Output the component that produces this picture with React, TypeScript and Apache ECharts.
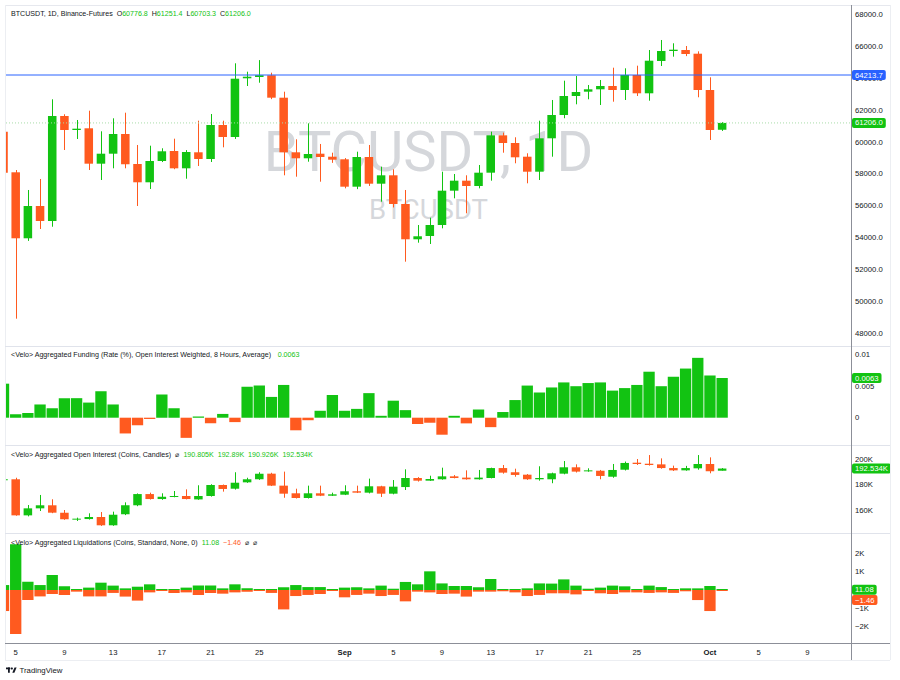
import React, { useEffect, useRef } from 'react';
import * as echarts from 'echarts';

const GREEN = '#12c312';
const RED = '#ff5a1f';
const BLUE = '#2962ff';
const TEXT = '#131722';
const FONT = 'Liberation Sans, Arial, sans-serif';

// Day offset of the first bar relative to Aug 5 (Aug 4 → -1); bars run daily to Oct 2
const firstDayOffset = -1;

const priceOpen = [60656,58107,53964,55991,55050,61641,60762,60869,58647,59274,60510,58628,57479,58816,59444,58357,59362,58942,61076,60323,64008,64089,64196,62790,59362,58986,59274,59086,58923,57203,59067,57391,57918,56117,53901,54108,54797,56952,57580,57247,58082,60427,59946,59086,58144,60241,61704,62896,63167,63317,63524,63273,64215,63066,65094,65721,65784,65552,63273,60776.8];
const priceHigh = [60900,58250,56996,57686,62689,61750,61390,61974,60680,61496,61848,59821,59777,59614,60216,59500,61346,61767,61346,64949,64422,65150,64360,63167,60178,61180,59884,59337,59000,59400,59821,58458,58295,56996,54797,55257,58144,58000,57918,58565,60656,60600,60304,59300,61346,62646,63857,64152,63587,63901,64673,64635,64800,65784,66412,66205,66035,65700,64070,61251.4];
const priceLow = [57900,48917,53800,54547,54690,59507,60197,58250,57623,58357,58357,55991,57059,58750,58300,57705,58502,58753,59676,60200,63524,63731,62700,57918,57830,58772,57517,58700,57100,57050,57250,56261,55900,52495,53688,53606,54590,56474,55533,57100,57580,59337,58672,57416,57623,59086,61500,62375,62690,62332,62539,62646,62896,62602,64780,65365,65400,62815,60134,60703.3];
const priceClose = [58082,53964,55991,55050,61641,60762,60844,58647,59274,60510,58609,57479,58816,59425,58357,59381,58942,61076,60323,63982,64108,64196,62790,59362,58986,59255,59067,58898,57203,59067,57391,57918,56117,53901,54090,54797,56952,57580,57247,58082,60427,59946,59048,58144,60241,61704,62896,63148,63317,63524,63273,64215,63066,65112,65721,65803,65533,63273,60762,61206.0];

const funding = [0.0054,0.00054,0.00075,0.0021,0.0015,0.0031,0.0031,0.0024,0.0042,0.0021,-0.0025,-0.0012,-0.0002,0.0037,0.0015,-0.0032,0.0002,-0.0009,0.0006,-0.0007,0.0049,0.0051,0.0033,0.0052,-0.0020,-0.0004,0.0011,0.0036,0.0011,0.0014,0.0039,0.0003,0.0027,0.0012,-0.0010,-0.0008,-0.0027,0.0003,-0.0009,0.0013,-0.0015,0.0009,0.0028,0.0051,0.0040,0.0048,0.0056,0.0050,0.0055,0.0056,0.0043,0.0047,0.0052,0.0073,0.0050,0.0065,0.0078,0.0095,0.0067,0.0063];

const oiOpen = [183.5,184.1,155.8,161.3,163.7,157.9,152.6,152.9,154.5,148.0,156.6,163.7,172.5,168.6,170.2,171.0,168.3,171.0,179.6,176.7,181.7,184.1,188.5,179.1,173.1,169.4,173.1,171.2,172.0,174.7,173.6,178.6,172.8,178.0,185.1,183.0,184.1,186.4,185.4,184.1,185.1,192.9,189.6,187.7,184.1,184.1,188.5,193.5,190.4,190.8,186.1,191.6,197.1,196.3,195.8,192.9,191.1,192.7,196.1,190.805];
const oiHigh = [184.5,185.3,163.9,171.8,168.4,160.0,154.0,157.4,158.4,158.7,166.0,173.0,173.6,173.1,174.9,176.2,179.4,180.2,180.0,189.6,185.3,189.6,189.2,190.1,176.7,179.1,179.1,173.6,179.4,179.1,184.6,179.0,183.5,191.9,185.8,186.9,193.2,187.4,191.1,191.4,193.2,195.3,192.4,188.2,194.3,189.3,198.4,195.8,192.7,191.4,196.1,198.0,200.0,203.1,200.5,194.8,194.6,203.1,201.3,192.89];
const oiLow = [183.2,155.5,155.0,159.2,157.5,152.3,151.4,152.5,147.5,147.6,156.0,163.0,168.2,168.0,170.0,168.3,168.0,170.5,174.4,176.0,181.3,183.6,178.8,169.6,169.0,169.0,170.9,171.0,171.7,173.3,173.0,170.2,172.3,175.7,182.3,182.8,183.8,184.8,183.8,183.8,184.8,188.5,186.1,183.6,183.0,181.0,188.0,189.4,190.0,184.1,185.3,191.0,195.3,194.8,192.4,190.6,190.8,191.6,188.8,190.926];
const oiClose = [184.2,155.8,161.3,163.7,157.9,152.7,153.2,154.5,148.0,156.3,163.7,172.5,168.6,170.4,171.0,168.6,171.0,179.6,176.5,181.4,184.1,188.5,179.1,172.8,169.4,173.1,171.2,172.3,174.7,173.6,178.6,172.8,178.3,185.1,183.0,184.3,186.4,185.1,184.1,185.4,192.9,189.3,187.5,184.1,185.1,188.8,193.5,190.1,191.1,186.7,191.4,196.9,196.1,195.3,192.9,191.1,192.9,196.1,190.4,192.534];

const liqLong = [270,2500,450,270,820,200,50,130,400,240,90,180,310,20,50,130,240,240,90,310,90,20,0,150,270,160,160,20,130,150,90,240,70,440,310,1020,360,220,220,150,600,20,0,90,360,350,580,240,70,130,240,200,50,240,160,0,90,90,220,11.08];
const liqShort = [-1150,-2400,-550,-350,-220,-270,-90,-350,-350,-160,-360,-580,-130,-40,-160,-130,-270,-160,-200,-130,-90,-40,-160,-1060,-330,-270,-220,-50,-400,-270,-200,-330,-270,-620,-90,-130,-220,-200,-360,-90,-90,-70,-130,-330,-270,-180,-180,-240,-40,-180,-220,-130,-130,-160,-130,-160,-70,-550,-1150,-1.46];

const xTickDays = [0,4,8,12,16,20,27,31,35,39,43,47,51,57,61,65];
const xTickLabels = ['5','9','13','17','21','25','Sep','5','9','13','17','21','25','Oct','5','9'];
const priceTicks = [48000,50000,52000,54000,56000,58000,60000,62000,64000,66000,68000];
const fundingTicks = [0,0.005,0.01];
const oiTicks = [160,180,200];
const liqTicks = [2000,1000,-1000,-2000];

const lastPrice = 61206.0;
const refPrice = 64213.7;
const lastFunding = 0.0063;
const lastOI = 192.534;
const lastLiqLong = 11.08;
const lastLiqShort = -1.46;

const X_MIN = -0.796;
const X_MAX = 68.58;

function clipR(x: number, y: number, w: number, h: number, cs: any) {
  const x1 = Math.max(x, cs.x), x2 = Math.min(x + w, cs.x + cs.width);
  const y1 = Math.max(y, cs.y), y2 = Math.min(y + h, cs.y + cs.height);
  if (x2 <= x1 || y2 <= y1) return null;
  return { x: x1, y: y1, width: x2 - x1, height: y2 - y1 };
}

function renderCandle(params: any, api: any) {
  const cs = params.coordSys;
  const x = api.value(0), o = api.value(1), c = api.value(2), l = api.value(3), h = api.value(4);
  const color = c >= o ? GREEN : RED;
  const po = api.coord([x, o]);
  const px = po[0];
  const yo = po[1];
  const yc = api.coord([x, c])[1];
  const yl = api.coord([x, l])[1];
  const yh = api.coord([x, h])[1];
  const bw = api.size([1, 0])[0] * 0.7;
  const children: any[] = [];
  if (px >= cs.x && px <= cs.x + cs.width) {
    const wx = Math.round(px) + 0.5;
    children.push({ type: 'line', shape: { x1: wx, y1: yh, x2: wx, y2: yl }, style: { stroke: color, lineWidth: 1 } });
  }
  const top = Math.min(yo, yc);
  const ht = Math.max(1, Math.abs(yo - yc));
  const r = clipR(px - bw / 2, top, bw, ht, cs);
  if (r) children.push({ type: 'rect', shape: r, style: { fill: color } });
  return { type: 'group', children };
}

function renderFunding(params: any, api: any) {
  const cs = params.coordSys;
  const x = api.value(0), v = api.value(1);
  const p = api.coord([x, v]);
  const y0 = api.coord([x, 0])[1];
  const bw = api.size([1, 0])[0] * 0.93;
  const top = Math.min(p[1], y0);
  const ht = Math.max(1, Math.abs(p[1] - y0));
  const r = clipR(p[0] - bw / 2, top, bw, ht, cs);
  return { type: 'group', children: r ? [{ type: 'rect', shape: r, style: { fill: v >= 0 ? GREEN : RED } }] : [] };
}

function renderLiq(params: any, api: any) {
  const cs = params.coordSys;
  const x = api.value(0), pos = api.value(1), neg = api.value(2);
  const y0 = api.coord([x, 0])[1];
  const pp = api.coord([x, pos]);
  const pn = api.coord([x, neg])[1];
  const bw = api.size([1, 0])[0] * 0.93;
  const children: any[] = [];
  const rp = clipR(pp[0] - bw / 2, Math.min(pp[1], y0 - 1), bw, Math.max(1, y0 - pp[1]), cs);
  if (rp) children.push({ type: 'rect', shape: rp, style: { fill: GREEN } });
  const rn = clipR(pp[0] - bw / 2, y0, bw, Math.max(1, pn - y0), cs);
  if (rn) children.push({ type: 'rect', shape: rn, style: { fill: RED } });
  return { type: 'group', children };
}

const lblBox = (bg: string, text: string) => ({
  show: true,
  distance: 1,
  color: '#ffffff',
  backgroundColor: bg,
  padding: [1, 3],
  borderRadius: 2,
  fontSize: 7.7,
  fontFamily: FONT,
  formatter: text,
});

// A horizontal level drawn as a two-point line series across the pane, with its value box as the end label
function levelSeries(axis: number, value: number, lineStyle: any, endLabel: any) {
  return {
    type: 'line', xAxisIndex: axis, yAxisIndex: axis,
    data: [[X_MIN, value], [X_MAX, value]],
    symbol: 'none', silent: true, clip: false, z: 6,
    lineStyle,
    endLabel,
    emphasis: { disabled: true },
  };
}

export default function App() {
  const ref = useRef<HTMLDivElement>(null);
  useEffect(() => {
    if (!ref.current) return;
    const chart = echarts.init(ref.current, null, { renderer: 'svg' });
    const xs = priceOpen.map((_, i) => firstDayOffset + i);
    const candleRows = xs.map((x, i) => [x, priceOpen[i], priceClose[i], priceLow[i], priceHigh[i]]);
    const oiRows = xs.map((x, i) => [x, oiOpen[i], oiClose[i], oiLow[i], oiHigh[i]]);
    const fundRows = xs.map((x, i) => [x, funding[i]]);
    const liqRows = xs.map((x, i) => [x, liqLong[i], liqShort[i]]);

    const mkX = (gi: number, show: boolean) => ({
      type: 'value', gridIndex: gi, min: X_MIN, max: X_MAX,
      splitLine: { show: false }, axisLine: { show: false }, axisTick: { show: false },
      axisLabel: show ? {
        show: true, margin: 5, color: TEXT, fontSize: 7.7, fontFamily: FONT,
        customValues: xTickDays,
        formatter: (v: number) => {
          const i = xTickDays.indexOf(Math.round(v));
          const t = i >= 0 ? xTickLabels[i] : '';
          return t === 'Sep' || t === 'Oct' ? `{b|${t}}` : t;
        },
        rich: { b: { fontWeight: 'bold', fontSize: 7.7, color: TEXT, fontFamily: FONT } },
      } : { show: false },
    });
    const mkY = (gi: number, min: number, max: number, ticks: number[], fmt: (v: number) => string) => ({
      type: 'value', gridIndex: gi, position: 'right', min, max,
      splitLine: { show: false }, axisLine: { show: false }, axisTick: { show: false },
      axisLabel: { show: true, margin: 4, color: TEXT, fontSize: 7.7, fontFamily: FONT, customValues: ticks, formatter: fmt },
    });

    const hline = (x1: number, y: number, x2: number, color: string) => ({
      type: 'line', silent: true, z: 50, shape: { x1, y1: y, x2, y2: y }, style: { stroke: color, lineWidth: 1 },
    });
    const vline = (x: number, y1: number, y2: number, color: string) => ({
      type: 'line', silent: true, z: 50, shape: { x1: x, y1, x2: x, y2 }, style: { stroke: color, lineWidth: 1 },
    });
    const legendText = (y: number, text: string, rich: any) => ({
      type: 'text', x: 11, y, z: 100, silent: true,
      style: { text, fontSize: 7.1, fontFamily: FONT, fill: TEXT, verticalAlign: 'middle', align: 'left', rich },
    });
    const richBase = {
      t: { fontSize: 7.1, fontFamily: FONT, fill: TEXT, color: TEXT },
      g: { fontSize: 7.1, fontFamily: FONT, fill: GREEN, color: GREEN },
      r: { fontSize: 7.1, fontFamily: FONT, fill: RED, color: RED },
    };

    const hidden = { color: 'rgba(255,255,255,0)', width: 0 };

    chart.setOption({
      animation: false,
      backgroundColor: '#ffffff',
      grid: [
        { left: 6, right: 49, top: 5, height: 341 },
        { left: 6, right: 49, top: 347, height: 98 },
        { left: 6, right: 49, top: 446, height: 87 },
        { left: 6, right: 49, top: 534, height: 109 },
      ],
      xAxis: [mkX(0, false), mkX(1, false), mkX(2, false), mkX(3, true)],
      yAxis: [
        mkY(0, 47202, 68609, priceTicks, (v) => v.toFixed(1)),
        mkY(1, -0.004333, 0.011222, fundingTicks, (v) => String(v)),
        mkY(2, 141.96, 210.2, oiTicks, (v) => `${v}K`),
        mkY(3, -2896, 3060, liqTicks, (v) => `${v < 0 ? '−' : ''}${Math.abs(v) / 1000}K`),
      ],
      series: [
        { type: 'custom', xAxisIndex: 0, yAxisIndex: 0, renderItem: renderCandle, data: candleRows, encode: { x: 0, y: [1, 2, 3, 4] }, silent: true },
        levelSeries(0, lastPrice, { color: '#a8dca8', width: 1, type: [1, 2] }, lblBox(GREEN, lastPrice.toFixed(1))),
        levelSeries(0, refPrice, { color: BLUE, width: 1, type: 'solid' }, lblBox(BLUE, refPrice.toFixed(1))),
        { type: 'custom', xAxisIndex: 1, yAxisIndex: 1, renderItem: renderFunding, data: fundRows, encode: { x: 0, y: 1 }, silent: true },
        levelSeries(1, lastFunding, hidden, lblBox(GREEN, String(lastFunding))),
        { type: 'custom', xAxisIndex: 2, yAxisIndex: 2, renderItem: renderCandle, data: oiRows, encode: { x: 0, y: [1, 2, 3, 4] }, silent: true },
        levelSeries(2, lastOI, hidden, lblBox(GREEN, `${lastOI}K`)),
        { type: 'custom', xAxisIndex: 3, yAxisIndex: 3, renderItem: renderLiq, data: liqRows, encode: { x: 0, y: [1, 2] }, silent: true },
        levelSeries(3, lastLiqLong, hidden, lblBox(GREEN, String(lastLiqLong))),
        levelSeries(3, lastLiqShort, hidden, {
          show: true, distance: 1, fontSize: 7.7, fontFamily: FONT,
          formatter: `{g|}\n{b|−${Math.abs(lastLiqShort)}}`,
          rich: {
            g: { height: 20, fontSize: 7.7 },
            b: { backgroundColor: RED, color: '#ffffff', padding: [1, 3], borderRadius: 2, fontSize: 7.7, fontFamily: FONT },
          },
        }),
      ],
      graphic: {
        elements: [
          { type: 'text', x: 428.5, y: 151.5, z: -5, silent: true, style: { text: 'BTCUSDT, 1D', fontSize: 56, fontFamily: 'Roboto', fill: '#d5d7db', align: 'center', verticalAlign: 'middle' } },
          { type: 'text', x: 428.5, y: 209.5, z: -5, silent: true, style: { text: 'BTCUSDT', fontSize: 27.5, fontFamily: 'Roboto', fill: '#d5d7db', align: 'center', verticalAlign: 'middle' } },
          hline(5, 5.5, 890, '#e6e8ee'),
          vline(5.5, 5, 660, '#eceef2'),
          vline(890.5, 5, 660, '#eceef2'),
          hline(5, 660.5, 890, '#eceef2'),
          hline(5, 346.5, 890, '#e0e3eb'),
          hline(5, 445.5, 890, '#e0e3eb'),
          hline(5, 533.5, 890, '#e0e3eb'),
          vline(851.5, 5, 660, '#8c8f98'),
          hline(5, 643.5, 890, '#8c8f98'),
          legendText(14, '{t|BTCUSDT, 1D, Binance-Futures}  {t|O}{g|60776.8}  {t|H}{g|61251.4}  {t|L}{g|60703.3}  {t|C}{g|61206.0}', richBase),
          legendText(355, '{t|<Velo> Aggregated Funding (Rate (%), Open Interest Weighted, 8 Hours, Average)}   {g|0.0063}', richBase),
          legendText(455, '{t|<Velo> Aggregated Open Interest (Coins, Candles)}  {t|⌀}  {g|190.805K}  {g|192.89K}  {g|190.926K}  {g|192.534K}', richBase),
          legendText(543, '{t|<Velo> Aggregated Liquidations (Coins, Standard, None, 0)}  {g|11.08}  {r|−1.46}  {t|⌀}  {t|⌀}', richBase),
          { type: 'rect', silent: true, z: 100, shape: { x: 6, y: 667.5, width: 4.2, height: 1.8 }, style: { fill: TEXT } },
          { type: 'rect', silent: true, z: 100, shape: { x: 8, y: 667.5, width: 1.8, height: 5.2 }, style: { fill: TEXT } },
          { type: 'circle', silent: true, z: 100, shape: { cx: 11.8, cy: 668.5, r: 1.1 }, style: { fill: TEXT } },
          { type: 'polygon', silent: true, z: 100, shape: { points: [[12.3, 672.7], [14.5, 667.5], [16.6, 667.5], [14.4, 672.7]] }, style: { fill: TEXT } },
          { type: 'text', x: 19.5, y: 670.3, z: 100, silent: true, style: { text: 'TradingView', fontSize: 7.8, fontFamily: FONT, fill: TEXT, verticalAlign: 'middle', align: 'left' } },
        ],
      },
    });
    return () => chart.dispose();
  }, []);
  return <div ref={ref} style={{ position: 'absolute', left: 0, top: 0, width: 900, height: 680, background: '#fff' }} />;
}
